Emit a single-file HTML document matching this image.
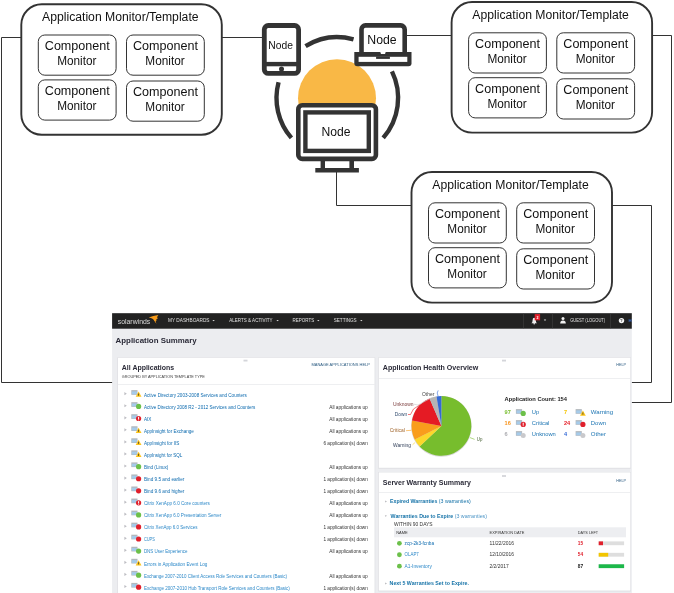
<!DOCTYPE html>
<html lang="en"><head><meta charset="utf-8"><title>Application Monitor diagram</title>
<style>
html,body{margin:0;padding:0;background:#fff;}
body{width:674px;height:593px;overflow:hidden;font-family:"Liberation Sans", sans-serif;}
svg{display:block;}
</style></head><body>
<svg width="674" height="593" viewBox="0 0 674 593" font-family='"Liberation Sans", sans-serif'>
<rect width="674" height="593" fill="#fff"/>
<polyline points="21,37.5 1.5,37.5 1.5,382.5 113,382.5" fill="none" stroke="#333" stroke-width="1"/>
<polyline points="222,37.5 264,37.5" fill="none" stroke="#333" stroke-width="1"/>
<polyline points="402,35.5 451,35.5" fill="none" stroke="#333" stroke-width="1"/>
<polyline points="652,35.5 671.5,35.5 671.5,402.5 631.5,402.5" fill="none" stroke="#333" stroke-width="1"/>
<polyline points="336.5,172 336.5,205.5 412,205.5" fill="none" stroke="#333" stroke-width="1"/>
<polyline points="612,205.5 651.5,205.5 651.5,382.5 631.5,382.5" fill="none" stroke="#333" stroke-width="1"/>
<rect x="21.3" y="4.2" width="200.5" height="130.6" rx="20.5" ry="20.5" fill="#fff" stroke="#333" stroke-width="1.9"/>
<text x="120.3" y="21.0" font-size="12" fill="#111" text-anchor="middle" textLength="156.5" lengthAdjust="spacingAndGlyphs">Application Monitor/Template</text>
<rect x="38.3" y="35.0" width="77.8" height="40.2" rx="6.5" ry="6.5" fill="#fff" stroke="#333" stroke-width="1"/>
<text x="77.3" y="50.1" font-size="12" fill="#111" text-anchor="middle" textLength="65" lengthAdjust="spacingAndGlyphs">Component</text>
<text x="76.8" y="65.1" font-size="12" fill="#111" text-anchor="middle" textLength="39.3" lengthAdjust="spacingAndGlyphs">Monitor</text>
<rect x="126.5" y="35.0" width="77.8" height="40.2" rx="6.5" ry="6.5" fill="#fff" stroke="#333" stroke-width="1"/>
<text x="165.5" y="50.1" font-size="12" fill="#111" text-anchor="middle" textLength="65" lengthAdjust="spacingAndGlyphs">Component</text>
<text x="165.0" y="65.1" font-size="12" fill="#111" text-anchor="middle" textLength="39.3" lengthAdjust="spacingAndGlyphs">Monitor</text>
<rect x="38.3" y="79.9" width="77.8" height="40.2" rx="6.5" ry="6.5" fill="#fff" stroke="#333" stroke-width="1"/>
<text x="77.3" y="95.0" font-size="12" fill="#111" text-anchor="middle" textLength="65" lengthAdjust="spacingAndGlyphs">Component</text>
<text x="76.8" y="110.0" font-size="12" fill="#111" text-anchor="middle" textLength="39.3" lengthAdjust="spacingAndGlyphs">Monitor</text>
<rect x="126.5" y="81.0" width="77.8" height="40.2" rx="6.5" ry="6.5" fill="#fff" stroke="#333" stroke-width="1"/>
<text x="165.5" y="96.1" font-size="12" fill="#111" text-anchor="middle" textLength="65" lengthAdjust="spacingAndGlyphs">Component</text>
<text x="165.0" y="111.1" font-size="12" fill="#111" text-anchor="middle" textLength="39.3" lengthAdjust="spacingAndGlyphs">Monitor</text>
<rect x="451.6" y="2" width="200.5" height="130.6" rx="20.5" ry="20.5" fill="#fff" stroke="#333" stroke-width="1.9"/>
<text x="550.6" y="18.8" font-size="12" fill="#111" text-anchor="middle" textLength="156.5" lengthAdjust="spacingAndGlyphs">Application Monitor/Template</text>
<rect x="468.6" y="32.8" width="77.8" height="40.2" rx="6.5" ry="6.5" fill="#fff" stroke="#333" stroke-width="1"/>
<text x="507.6" y="47.9" font-size="12" fill="#111" text-anchor="middle" textLength="65" lengthAdjust="spacingAndGlyphs">Component</text>
<text x="507.1" y="62.9" font-size="12" fill="#111" text-anchor="middle" textLength="39.3" lengthAdjust="spacingAndGlyphs">Monitor</text>
<rect x="556.8000000000001" y="32.8" width="77.8" height="40.2" rx="6.5" ry="6.5" fill="#fff" stroke="#333" stroke-width="1"/>
<text x="595.8000000000001" y="47.9" font-size="12" fill="#111" text-anchor="middle" textLength="65" lengthAdjust="spacingAndGlyphs">Component</text>
<text x="595.3000000000001" y="62.9" font-size="12" fill="#111" text-anchor="middle" textLength="39.3" lengthAdjust="spacingAndGlyphs">Monitor</text>
<rect x="468.6" y="77.7" width="77.8" height="40.2" rx="6.5" ry="6.5" fill="#fff" stroke="#333" stroke-width="1"/>
<text x="507.6" y="92.8" font-size="12" fill="#111" text-anchor="middle" textLength="65" lengthAdjust="spacingAndGlyphs">Component</text>
<text x="507.1" y="107.80000000000001" font-size="12" fill="#111" text-anchor="middle" textLength="39.3" lengthAdjust="spacingAndGlyphs">Monitor</text>
<rect x="556.8000000000001" y="78.8" width="77.8" height="40.2" rx="6.5" ry="6.5" fill="#fff" stroke="#333" stroke-width="1"/>
<text x="595.8000000000001" y="93.89999999999999" font-size="12" fill="#111" text-anchor="middle" textLength="65" lengthAdjust="spacingAndGlyphs">Component</text>
<text x="595.3000000000001" y="108.9" font-size="12" fill="#111" text-anchor="middle" textLength="39.3" lengthAdjust="spacingAndGlyphs">Monitor</text>
<rect x="411.5" y="172" width="200.5" height="130.6" rx="20.5" ry="20.5" fill="#fff" stroke="#333" stroke-width="1.9"/>
<text x="510.5" y="188.8" font-size="12" fill="#111" text-anchor="middle" textLength="156.5" lengthAdjust="spacingAndGlyphs">Application Monitor/Template</text>
<rect x="428.5" y="202.8" width="77.8" height="40.2" rx="6.5" ry="6.5" fill="#fff" stroke="#333" stroke-width="1"/>
<text x="467.5" y="217.9" font-size="12" fill="#111" text-anchor="middle" textLength="65" lengthAdjust="spacingAndGlyphs">Component</text>
<text x="467.0" y="232.9" font-size="12" fill="#111" text-anchor="middle" textLength="39.3" lengthAdjust="spacingAndGlyphs">Monitor</text>
<rect x="516.7" y="202.8" width="77.8" height="40.2" rx="6.5" ry="6.5" fill="#fff" stroke="#333" stroke-width="1"/>
<text x="555.7" y="217.9" font-size="12" fill="#111" text-anchor="middle" textLength="65" lengthAdjust="spacingAndGlyphs">Component</text>
<text x="555.2" y="232.9" font-size="12" fill="#111" text-anchor="middle" textLength="39.3" lengthAdjust="spacingAndGlyphs">Monitor</text>
<rect x="428.5" y="247.7" width="77.8" height="40.2" rx="6.5" ry="6.5" fill="#fff" stroke="#333" stroke-width="1"/>
<text x="467.5" y="262.8" font-size="12" fill="#111" text-anchor="middle" textLength="65" lengthAdjust="spacingAndGlyphs">Component</text>
<text x="467.0" y="277.8" font-size="12" fill="#111" text-anchor="middle" textLength="39.3" lengthAdjust="spacingAndGlyphs">Monitor</text>
<rect x="516.7" y="248.8" width="77.8" height="40.2" rx="6.5" ry="6.5" fill="#fff" stroke="#333" stroke-width="1"/>
<text x="555.7" y="263.90000000000003" font-size="12" fill="#111" text-anchor="middle" textLength="65" lengthAdjust="spacingAndGlyphs">Component</text>
<text x="555.2" y="278.90000000000003" font-size="12" fill="#111" text-anchor="middle" textLength="39.3" lengthAdjust="spacingAndGlyphs">Monitor</text>
<circle cx="337" cy="98.2" r="39" fill="#F9B846"/>
<path d="M353.55,39.41 A60.8,60.8 0 0 0 305.53,46.16" fill="none" stroke="#333333" stroke-width="4.4" stroke-linecap="butt"/>
<path d="M278.57,82.26 A60.8,60.8 0 0 0 291.41,137.89" fill="none" stroke="#333333" stroke-width="4.4" stroke-linecap="butt"/>
<path d="M391.95,71.35 A60.8,60.8 0 0 1 383.19,137.89" fill="none" stroke="#333333" stroke-width="4.4" stroke-linecap="butt"/>
<rect x="264.3" y="25.5" width="34.3" height="47.9" rx="4" ry="4" fill="#fff" stroke="#333333" stroke-width="4.8"/>
<rect x="264.3" y="61.9" width="34.3" height="4.4" fill="#333333"/>
<circle cx="281.5" cy="69" r="2.5" fill="#333333"/>
<text x="280.6" y="49.2" font-size="10.3" fill="#111" text-anchor="middle" textLength="24.6" lengthAdjust="spacingAndGlyphs">Node</text>
<path d="M361.5,54 V29.4 a4,4 0 0 1 4,-4 h35.2 a4,4 0 0 1 4,4 V54" fill="#fff" stroke="#333333" stroke-width="4.6"/>
<path d="M354.3,52 H411.5 V63.3 a3,3 0 0 1 -3,3 H357.3 a3,3 0 0 1 -3,-3 Z" fill="#333333"/>
<rect x="358.6" y="56.8" width="48.7" height="5.1" fill="#fff"/>
<rect x="376.1" y="56.5" width="13.8" height="2.4" fill="#333333"/>
<path d="M380.2,51.8 h5.6 l-0.8,2.2 h-4 z" fill="#fff"/>
<text x="382" y="43.8" font-size="12.2" fill="#111" text-anchor="middle" textLength="29.3" lengthAdjust="spacingAndGlyphs">Node</text>
<rect x="320.6" y="160" width="4.4" height="9" fill="#333333"/>
<rect x="349.4" y="160" width="4.6" height="9" fill="#333333"/>
<rect x="315.3" y="168" width="43.6" height="4.5" fill="#333333"/>
<rect x="298.3" y="105.3" width="77.6" height="53.6" rx="4" ry="4" fill="#fff" stroke="#333333" stroke-width="4.6"/>
<rect x="305.4" y="112.4" width="63.4" height="38.5" fill="#fff" stroke="#333333" stroke-width="4.4"/>
<text x="336" y="136.3" font-size="12.2" fill="#111" text-anchor="middle" textLength="29" lengthAdjust="spacingAndGlyphs">Node</text>
<rect x="112.1" y="313.2" width="519.6999999999999" height="279.8" fill="#ECEDF0"/>
<rect x="112.1" y="313.2" width="519.6999999999999" height="15.5" fill="#222"/>
<text x="117.8" y="323.9" font-size="7.3" fill="#dcdcdc" textLength="32.4" lengthAdjust="spacingAndGlyphs">solarwinds</text>
<path d="M148.7,317.6 Q153,315.6 158.4,314.9 L156.8,317.6 L158.2,317.9 L156,319.6 L157,320 L155.6,321 L156.4,323.8 L154.4,321 Q153.4,318.4 148.7,317.6 Z" fill="#F99D1C"/>
<text x="168" y="322.3" font-size="4.8" fill="#f4f4f4" textLength="41.5" lengthAdjust="spacingAndGlyphs" opacity="0.9">MY DASHBOARDS</text>
<path d="M212.4,320 h2.4 l-1.2,1.3 z" fill="#ddd"/>
<text x="229.3" y="322.3" font-size="4.8" fill="#f4f4f4" textLength="43.2" lengthAdjust="spacingAndGlyphs" opacity="0.9">ALERTS &amp; ACTIVITY</text>
<path d="M276.40000000000003,320 h2.4 l-1.2,1.3 z" fill="#ddd"/>
<text x="292.5" y="322.3" font-size="4.8" fill="#f4f4f4" textLength="21.7" lengthAdjust="spacingAndGlyphs" opacity="0.9">REPORTS</text>
<path d="M317.1,320 h2.4 l-1.2,1.3 z" fill="#ddd"/>
<text x="333.7" y="322.3" font-size="4.8" fill="#f4f4f4" textLength="23" lengthAdjust="spacingAndGlyphs" opacity="0.9">SETTINGS</text>
<path d="M360.1,320 h2.4 l-1.2,1.3 z" fill="#ddd"/>
<rect x="523.5" y="313.2" width="0.5" height="15.3" fill="#444"/>
<rect x="552.5" y="313.2" width="0.5" height="15.3" fill="#444"/>
<rect x="610" y="313.2" width="0.5" height="15.3" fill="#444"/>
<path d="M531.4,323.2 q1.2,-0.6 1.2,-3 q0,-2.4 1.6,-2.4 q1.6,0 1.6,2.4 q0,2.4 1.2,3 z" fill="#eee"/>
<circle cx="534.2" cy="323.8" r="0.8" fill="#eee"/>
<rect x="534.7" y="314.1" width="5.4" height="6.2" fill="#E0202C"/>
<text x="537.4" y="318.6" font-size="3.6" fill="#fff" text-anchor="middle" font-weight="bold">2</text>
<path d="M543.8,319.6 h2.4 l-1.2,1.3 z" fill="#ddd"/>
<circle cx="563" cy="318.6" r="1.5" fill="#f2f2f2"/>
<path d="M560.2,323.4 q0,-3 2.8,-3 q2.8,0 2.8,3 z" fill="#f2f2f2"/>
<text x="570.2" y="322.2" font-size="4.5" fill="#f4f4f4" textLength="35" lengthAdjust="spacingAndGlyphs" opacity="0.9">GUEST (LOGOUT)</text>
<circle cx="621.5" cy="320.6" r="2.7" fill="#f5f5f5"/>
<text x="621.5" y="322" font-size="3.8" fill="#222" text-anchor="middle" font-weight="bold">?</text>
<text x="628.6" y="322.2" font-size="4.3" fill="#3C6FD0" font-weight="bold">H</text>
<text x="115.6" y="343.2" font-size="7.6" fill="#2B2B38" font-weight="bold" textLength="81" lengthAdjust="spacingAndGlyphs">Application Summary</text>
<rect x="117.4" y="357.40000000000003" width="257.8" height="241.2" fill="#DCDDE1"/>
<rect x="118" y="357.8" width="256.6" height="240" fill="#fff"/>
<rect x="118" y="384.3" width="256.6" height="0.6" fill="#E3E4E8"/>
<rect x="378.2" y="357.40000000000003" width="252.79999999999998" height="111.2" fill="#DCDDE1"/>
<rect x="378.8" y="357.8" width="251.6" height="110" fill="#fff"/>
<rect x="378.8" y="378.1" width="251.6" height="0.6" fill="#E3E4E8"/>
<rect x="378.2" y="472.0" width="252.79999999999998" height="119.4" fill="#DCDDE1"/>
<rect x="378.8" y="472.4" width="251.6" height="118.2" fill="#fff"/>
<rect x="378.8" y="492" width="251.6" height="0.6" fill="#E3E4E8"/>
<rect x="243.5" y="359.70000000000005" width="4" height="1.8" fill="#D4D5DA"/>
<rect x="502" y="359.70000000000005" width="4" height="1.8" fill="#D4D5DA"/>
<rect x="502" y="475.1" width="4" height="1.8" fill="#D4D5DA"/>
<text x="121.8" y="369.8" font-size="6.7" fill="#2B2B38" font-weight="bold" textLength="52.4" lengthAdjust="spacingAndGlyphs">All Applications</text>
<text x="121.8" y="378.4" font-size="3.7" fill="#3a3a3a" textLength="83" lengthAdjust="spacingAndGlyphs">GROUPED BY APPLICATION TEMPLATE TYPE</text>
<text x="370" y="366.2" font-size="3.7" fill="#2A5A80" text-anchor="end" textLength="58.6" lengthAdjust="spacingAndGlyphs">MANAGE APPLICATIONS  HELP</text>
<path d="M124.4,392.1 l2.4,1.6 l-2.4,1.6 z" fill="#BDBDC2"/>
<rect x="131.29999999999998" y="390.1" width="6.2" height="4.7" fill="#B3B8BD"/>
<rect x="131.9" y="391.40000000000003" width="5" height="2.9" fill="#A5CBEA"/>
<path d="M138.6,391.6 L141.5,396.8 L135.7,396.8 Z" fill="#FCC419"/>
<rect x="138.25" y="393.50000000000006" width="0.7" height="2.2" fill="#333"/>
<text x="143.9" y="396.8" font-size="4.9" fill="#0A69AE" textLength="103" lengthAdjust="spacingAndGlyphs">Active Directory 2003-2008 Services and Counters</text>
<path d="M124.4,404.15000000000003 l2.4,1.6 l-2.4,1.6 z" fill="#BDBDC2"/>
<rect x="131.29999999999998" y="402.15000000000003" width="6.2" height="4.7" fill="#B3B8BD"/>
<rect x="131.9" y="403.45000000000005" width="5" height="2.9" fill="#A5CBEA"/>
<circle cx="138.6" cy="406.45000000000005" r="2.6" fill="#6CC04A"/>
<text x="143.9" y="408.85" font-size="4.9" fill="#0A69AE" textLength="111.5" lengthAdjust="spacingAndGlyphs">Active Directory 2008 R2 - 2012 Services and Counters</text>
<text x="367.8" y="408.85" font-size="4.9" fill="#333" text-anchor="end" textLength="38.6" lengthAdjust="spacingAndGlyphs">All applications up</text>
<path d="M124.4,416.20000000000005 l2.4,1.6 l-2.4,1.6 z" fill="#BDBDC2"/>
<rect x="131.29999999999998" y="414.20000000000005" width="6.2" height="4.7" fill="#B3B8BD"/>
<rect x="131.9" y="415.50000000000006" width="5" height="2.9" fill="#A5CBEA"/>
<circle cx="138.6" cy="418.50000000000006" r="2.6" fill="#E0202C"/>
<rect x="138.1" y="416.80000000000007" width="1" height="2.2" fill="#fff"/>
<rect x="138.1" y="419.40000000000003" width="1" height="0.9" fill="#fff"/>
<text x="143.9" y="420.90000000000003" font-size="4.9" fill="#0A69AE" textLength="7.5" lengthAdjust="spacingAndGlyphs">AIX</text>
<text x="367.8" y="420.90000000000003" font-size="4.9" fill="#333" text-anchor="end" textLength="38.6" lengthAdjust="spacingAndGlyphs">All applications up</text>
<path d="M124.4,428.25000000000006 l2.4,1.6 l-2.4,1.6 z" fill="#BDBDC2"/>
<rect x="131.29999999999998" y="426.25000000000006" width="6.2" height="4.7" fill="#B3B8BD"/>
<rect x="131.9" y="427.55000000000007" width="5" height="2.9" fill="#A5CBEA"/>
<path d="M138.6,427.75000000000006 L141.5,432.95000000000005 L135.7,432.95000000000005 Z" fill="#FCC419"/>
<rect x="138.25" y="429.6500000000001" width="0.7" height="2.2" fill="#333"/>
<text x="143.9" y="432.95000000000005" font-size="4.9" fill="#0A69AE" textLength="50" lengthAdjust="spacingAndGlyphs">AppInsight for Exchange</text>
<text x="367.8" y="432.95000000000005" font-size="4.9" fill="#333" text-anchor="end" textLength="38.6" lengthAdjust="spacingAndGlyphs">All applications up</text>
<path d="M124.4,440.3 l2.4,1.6 l-2.4,1.6 z" fill="#BDBDC2"/>
<rect x="131.29999999999998" y="438.3" width="6.2" height="4.7" fill="#B3B8BD"/>
<rect x="131.9" y="439.6" width="5" height="2.9" fill="#A5CBEA"/>
<path d="M138.6,439.8 L141.5,445.0 L135.7,445.0 Z" fill="#FCC419"/>
<rect x="138.25" y="441.70000000000005" width="0.7" height="2.2" fill="#333"/>
<text x="143.9" y="445.0" font-size="4.9" fill="#0A69AE" textLength="35.5" lengthAdjust="spacingAndGlyphs">AppInsight for IIS</text>
<text x="367.8" y="445.0" font-size="4.9" fill="#333" text-anchor="end" textLength="44.4" lengthAdjust="spacingAndGlyphs">6 application(s) down</text>
<path d="M124.4,452.35 l2.4,1.6 l-2.4,1.6 z" fill="#BDBDC2"/>
<rect x="131.29999999999998" y="450.35" width="6.2" height="4.7" fill="#B3B8BD"/>
<rect x="131.9" y="451.65000000000003" width="5" height="2.9" fill="#A5CBEA"/>
<path d="M138.6,451.85 L141.5,457.05 L135.7,457.05 Z" fill="#FCC419"/>
<rect x="138.25" y="453.75000000000006" width="0.7" height="2.2" fill="#333"/>
<text x="143.9" y="457.05" font-size="4.9" fill="#0A69AE" textLength="38.5" lengthAdjust="spacingAndGlyphs">AppInsight for SQL</text>
<path d="M124.4,464.40000000000003 l2.4,1.6 l-2.4,1.6 z" fill="#BDBDC2"/>
<rect x="131.29999999999998" y="462.40000000000003" width="6.2" height="4.7" fill="#B3B8BD"/>
<rect x="131.9" y="463.70000000000005" width="5" height="2.9" fill="#A5CBEA"/>
<circle cx="138.6" cy="466.70000000000005" r="2.6" fill="#6CC04A"/>
<text x="143.9" y="469.1" font-size="4.9" fill="#0A69AE" textLength="24.5" lengthAdjust="spacingAndGlyphs">Bind (Linux)</text>
<text x="367.8" y="469.1" font-size="4.9" fill="#333" text-anchor="end" textLength="38.6" lengthAdjust="spacingAndGlyphs">All applications up</text>
<path d="M124.4,476.45000000000005 l2.4,1.6 l-2.4,1.6 z" fill="#BDBDC2"/>
<rect x="131.29999999999998" y="474.45000000000005" width="6.2" height="4.7" fill="#B3B8BD"/>
<rect x="131.9" y="475.75000000000006" width="5" height="2.9" fill="#A5CBEA"/>
<circle cx="138.6" cy="478.75000000000006" r="2.6" fill="#E0202C"/>
<text x="143.9" y="481.15000000000003" font-size="4.9" fill="#0A69AE" textLength="40.5" lengthAdjust="spacingAndGlyphs">Bind 9.5 and earlier</text>
<text x="367.8" y="481.15000000000003" font-size="4.9" fill="#333" text-anchor="end" textLength="44.4" lengthAdjust="spacingAndGlyphs">1 application(s) down</text>
<path d="M124.4,488.50000000000006 l2.4,1.6 l-2.4,1.6 z" fill="#BDBDC2"/>
<rect x="131.29999999999998" y="486.50000000000006" width="6.2" height="4.7" fill="#B3B8BD"/>
<rect x="131.9" y="487.80000000000007" width="5" height="2.9" fill="#A5CBEA"/>
<circle cx="138.6" cy="490.80000000000007" r="2.6" fill="#E0202C"/>
<text x="143.9" y="493.20000000000005" font-size="4.9" fill="#0A69AE" textLength="40.5" lengthAdjust="spacingAndGlyphs">Bind 9.6 and higher</text>
<text x="367.8" y="493.20000000000005" font-size="4.9" fill="#333" text-anchor="end" textLength="44.4" lengthAdjust="spacingAndGlyphs">1 application(s) down</text>
<path d="M124.4,500.55 l2.4,1.6 l-2.4,1.6 z" fill="#BDBDC2"/>
<rect x="131.29999999999998" y="498.55" width="6.2" height="4.7" fill="#B3B8BD"/>
<rect x="131.9" y="499.85" width="5" height="2.9" fill="#A5CBEA"/>
<circle cx="138.6" cy="502.85" r="2.6" fill="#E0202C"/>
<rect x="138.1" y="501.15000000000003" width="1" height="2.2" fill="#fff"/>
<rect x="138.1" y="503.75" width="1" height="0.9" fill="#fff"/>
<text x="143.9" y="505.25" font-size="4.9" fill="#2C88C8" textLength="66" lengthAdjust="spacingAndGlyphs">Citrix XenApp 6.0 Core counters</text>
<text x="367.8" y="505.25" font-size="4.9" fill="#333" text-anchor="end" textLength="38.6" lengthAdjust="spacingAndGlyphs">All applications up</text>
<path d="M124.4,512.5999999999999 l2.4,1.6 l-2.4,1.6 z" fill="#BDBDC2"/>
<rect x="131.29999999999998" y="510.59999999999997" width="6.2" height="4.7" fill="#B3B8BD"/>
<rect x="131.9" y="511.9" width="5" height="2.9" fill="#A5CBEA"/>
<circle cx="138.6" cy="514.9" r="2.6" fill="#6CC04A"/>
<text x="143.9" y="517.3" font-size="4.9" fill="#2C88C8" textLength="77.5" lengthAdjust="spacingAndGlyphs">Citrix XenApp 6.0 Presentation Server</text>
<text x="367.8" y="517.3" font-size="4.9" fill="#333" text-anchor="end" textLength="38.6" lengthAdjust="spacingAndGlyphs">All applications up</text>
<path d="M124.4,524.65 l2.4,1.6 l-2.4,1.6 z" fill="#BDBDC2"/>
<rect x="131.29999999999998" y="522.65" width="6.2" height="4.7" fill="#B3B8BD"/>
<rect x="131.9" y="523.95" width="5" height="2.9" fill="#A5CBEA"/>
<circle cx="138.6" cy="526.95" r="2.6" fill="#E0202C"/>
<text x="143.9" y="529.35" font-size="4.9" fill="#2C88C8" textLength="53.5" lengthAdjust="spacingAndGlyphs">Citrix XenApp 6.0 Services</text>
<text x="367.8" y="529.35" font-size="4.9" fill="#333" text-anchor="end" textLength="44.4" lengthAdjust="spacingAndGlyphs">1 application(s) down</text>
<path d="M124.4,536.7 l2.4,1.6 l-2.4,1.6 z" fill="#BDBDC2"/>
<rect x="131.29999999999998" y="534.7" width="6.2" height="4.7" fill="#B3B8BD"/>
<rect x="131.9" y="536.0000000000001" width="5" height="2.9" fill="#A5CBEA"/>
<circle cx="138.6" cy="539.0000000000001" r="2.6" fill="#E0202C"/>
<text x="143.9" y="541.4000000000001" font-size="4.9" fill="#2C88C8" textLength="11" lengthAdjust="spacingAndGlyphs">CUPS</text>
<text x="367.8" y="541.4000000000001" font-size="4.9" fill="#333" text-anchor="end" textLength="44.4" lengthAdjust="spacingAndGlyphs">1 application(s) down</text>
<path d="M124.4,548.75 l2.4,1.6 l-2.4,1.6 z" fill="#BDBDC2"/>
<rect x="131.29999999999998" y="546.75" width="6.2" height="4.7" fill="#B3B8BD"/>
<rect x="131.9" y="548.0500000000001" width="5" height="2.9" fill="#A5CBEA"/>
<circle cx="138.6" cy="551.0500000000001" r="2.6" fill="#6CC04A"/>
<text x="143.9" y="553.45" font-size="4.9" fill="#2C88C8" textLength="43.5" lengthAdjust="spacingAndGlyphs">DNS User Experience</text>
<text x="367.8" y="553.45" font-size="4.9" fill="#333" text-anchor="end" textLength="38.6" lengthAdjust="spacingAndGlyphs">All applications up</text>
<path d="M124.4,560.8 l2.4,1.6 l-2.4,1.6 z" fill="#BDBDC2"/>
<rect x="131.29999999999998" y="558.8" width="6.2" height="4.7" fill="#B3B8BD"/>
<rect x="131.9" y="560.1" width="5" height="2.9" fill="#A5CBEA"/>
<path d="M138.6,560.3000000000001 L141.5,565.5 L135.7,565.5 Z" fill="#FCC419"/>
<rect x="138.25" y="562.2" width="0.7" height="2.2" fill="#333"/>
<text x="143.9" y="565.5" font-size="4.9" fill="#2C88C8" textLength="63.5" lengthAdjust="spacingAndGlyphs">Errors in Application Event Log</text>
<path d="M124.4,572.8499999999999 l2.4,1.6 l-2.4,1.6 z" fill="#BDBDC2"/>
<rect x="131.29999999999998" y="570.8499999999999" width="6.2" height="4.7" fill="#B3B8BD"/>
<rect x="131.9" y="572.15" width="5" height="2.9" fill="#A5CBEA"/>
<circle cx="138.6" cy="575.15" r="2.6" fill="#6CC04A"/>
<text x="143.9" y="577.55" font-size="4.9" fill="#2C88C8" textLength="143" lengthAdjust="spacingAndGlyphs">Exchange 2007-2010 Client Access Role Services and Counters (Basic)</text>
<text x="367.8" y="577.55" font-size="4.9" fill="#333" text-anchor="end" textLength="38.6" lengthAdjust="spacingAndGlyphs">All applications up</text>
<path d="M124.4,584.9 l2.4,1.6 l-2.4,1.6 z" fill="#BDBDC2"/>
<rect x="131.29999999999998" y="582.9" width="6.2" height="4.7" fill="#B3B8BD"/>
<rect x="131.9" y="584.2" width="5" height="2.9" fill="#A5CBEA"/>
<circle cx="138.6" cy="587.2" r="2.6" fill="#E0202C"/>
<text x="143.9" y="589.6" font-size="4.9" fill="#2C88C8" textLength="146" lengthAdjust="spacingAndGlyphs">Exchange 2007-2010 Hub Transport Role Services and Counters (Basic)</text>
<text x="367.8" y="589.6" font-size="4.9" fill="#333" text-anchor="end" textLength="44.4" lengthAdjust="spacingAndGlyphs">1 application(s) down</text>
<text x="382.8" y="370.2" font-size="6.7" fill="#2B2B38" font-weight="bold" textLength="95.5" lengthAdjust="spacingAndGlyphs">Application Health Overview</text>
<text x="626" y="366.2" font-size="3.7" fill="#2A5A80" text-anchor="end" textLength="9.8" lengthAdjust="spacingAndGlyphs">HELP</text>
<circle cx="441.4" cy="426.29999999999995" r="30.4" fill="#D8D8D8"/>
<path d="M441.4,425.9 L441.40,396.00 A29.9,29.9 0 1 1 419.62,446.39 Z" fill="#77BD2D"/>
<path d="M441.4,425.9 L419.62,446.39 A29.9,29.9 0 0 1 414.73,439.42 Z" fill="#FCD72B"/>
<path d="M441.4,425.9 L414.73,439.42 A29.9,29.9 0 0 1 412.00,420.44 Z" fill="#F99D1C"/>
<path d="M441.4,425.9 L412.00,420.44 A29.9,29.9 0 0 1 429.54,398.45 Z" fill="#E51B24"/>
<path d="M441.4,425.9 L429.54,398.45 A29.9,29.9 0 0 1 436.54,396.40 Z" fill="#B5B5B5"/>
<path d="M441.4,425.9 L436.54,396.40 A29.9,29.9 0 0 1 441.40,396.00 Z" fill="#3369D6"/>
<polyline points="438.2,396.4 437.2,393 438.2,390.4" fill="none" stroke="#3369D6" stroke-width="0.6"/>
<polyline points="431.5,397.8 418,405 414,404.2" fill="none" stroke="#C9C9CC" stroke-width="0.6"/>
<polyline points="420,404.8 413.5,409 410.5,414.5 408,414.5" fill="none" stroke="#E51B24" stroke-width="0.6"/>
<polyline points="411.3,430.3 406,430.7" fill="none" stroke="#F99D1C" stroke-width="0.6"/>
<polyline points="415,442.6 412.5,444.8" fill="none" stroke="#FCD72B" stroke-width="0.6"/>
<polyline points="470,437.6 474.6,439.4" fill="none" stroke="#77BD2D" stroke-width="0.6"/>
<text x="422" y="395.7" font-size="4.7" fill="#444" textLength="12.3" lengthAdjust="spacingAndGlyphs">Other</text>
<text x="393" y="405.7" font-size="4.7" fill="#7a3a3a" textLength="20.6" lengthAdjust="spacingAndGlyphs">Unknown</text>
<text x="394.8" y="415.9" font-size="4.7" fill="#2f4a6d" textLength="12.3" lengthAdjust="spacingAndGlyphs">Down</text>
<text x="389.8" y="432.3" font-size="4.7" fill="#a0642a" textLength="15" lengthAdjust="spacingAndGlyphs">Critical</text>
<text x="393" y="447" font-size="4.7" fill="#33405a" textLength="18" lengthAdjust="spacingAndGlyphs">Warning</text>
<text x="476.8" y="440.7" font-size="4.7" fill="#3e5a2a" textLength="5.6" lengthAdjust="spacingAndGlyphs">Up</text>
<text x="504.6" y="401.3" font-size="5.7" fill="#222" font-weight="bold" textLength="62.4" lengthAdjust="spacingAndGlyphs">Application Count: 154</text>
<text x="504.6" y="414.4" font-size="5.6" fill="#77BD2D" font-weight="bold">97</text>
<rect x="515.9000000000001" y="409.09999999999997" width="6.2" height="4.7" fill="#B3B8BD"/>
<rect x="516.5" y="410.4" width="5" height="2.9" fill="#A5CBEA"/>
<circle cx="523.2" cy="413.4" r="2.6" fill="#6CC04A"/>
<text x="531.8" y="414.4" font-size="5.7" fill="#1D75B3" textLength="7.4" lengthAdjust="spacingAndGlyphs">Up</text>
<text x="564.0" y="414.4" font-size="5.6" fill="#F5C400" font-weight="bold">7</text>
<rect x="575.6000000000001" y="409.09999999999997" width="6.2" height="4.7" fill="#B3B8BD"/>
<rect x="576.2" y="410.4" width="5" height="2.9" fill="#A5CBEA"/>
<path d="M582.9000000000001,410.59999999999997 L585.8000000000001,415.79999999999995 L580.0000000000001,415.79999999999995 Z" fill="#FCC419"/>
<rect x="582.5500000000001" y="412.5" width="0.7" height="2.2" fill="#333"/>
<text x="590.8" y="414.4" font-size="5.7" fill="#1D75B3" textLength="22.3" lengthAdjust="spacingAndGlyphs">Warning</text>
<text x="504.6" y="425.4" font-size="5.6" fill="#F7941D" font-weight="bold">16</text>
<rect x="515.9000000000001" y="420.09999999999997" width="6.2" height="4.7" fill="#B3B8BD"/>
<rect x="516.5" y="421.4" width="5" height="2.9" fill="#A5CBEA"/>
<circle cx="523.2" cy="424.4" r="2.6" fill="#E0202C"/>
<rect x="522.7" y="422.7" width="1" height="2.2" fill="#fff"/>
<rect x="522.7" y="425.29999999999995" width="1" height="0.9" fill="#fff"/>
<text x="531.8" y="425.4" font-size="5.7" fill="#1D75B3" textLength="17.6" lengthAdjust="spacingAndGlyphs">Critical</text>
<text x="564.0" y="425.4" font-size="5.6" fill="#E51B24" font-weight="bold">24</text>
<rect x="575.6000000000001" y="420.09999999999997" width="6.2" height="4.7" fill="#B3B8BD"/>
<rect x="576.2" y="421.4" width="5" height="2.9" fill="#A5CBEA"/>
<circle cx="582.9000000000001" cy="424.4" r="2.6" fill="#E0202C"/>
<text x="590.8" y="425.4" font-size="5.7" fill="#1D75B3" textLength="15.2" lengthAdjust="spacingAndGlyphs">Down</text>
<text x="504.6" y="436.4" font-size="5.6" fill="#ABABB0" font-weight="bold">6</text>
<rect x="515.9000000000001" y="431.09999999999997" width="6.2" height="4.7" fill="#B3B8BD"/>
<rect x="516.5" y="432.4" width="5" height="2.9" fill="#A5CBEA"/>
<circle cx="523.2" cy="435.4" r="2.5" fill="#C9C9CC"/>
<text x="531.8" y="436.4" font-size="5.7" fill="#1D75B3" textLength="24" lengthAdjust="spacingAndGlyphs">Unknown</text>
<text x="564.0" y="436.4" font-size="5.6" fill="#3369D6" font-weight="bold">4</text>
<rect x="575.6000000000001" y="431.09999999999997" width="6.2" height="4.7" fill="#B3B8BD"/>
<rect x="576.2" y="432.4" width="5" height="2.9" fill="#A5CBEA"/>
<circle cx="582.9000000000001" cy="435.4" r="2.5" fill="#C9C9CC"/>
<text x="590.8" y="436.4" font-size="5.7" fill="#1D75B3" textLength="15.2" lengthAdjust="spacingAndGlyphs">Other</text>
<text x="382.8" y="485.1" font-size="6.7" fill="#2B2B38" font-weight="bold" textLength="88" lengthAdjust="spacingAndGlyphs">Server Warranty Summary</text>
<text x="626" y="481.8" font-size="3.7" fill="#2A5A80" text-anchor="end" textLength="9.8" lengthAdjust="spacingAndGlyphs">HELP</text>
<path d="M385.4,500.4 l1.3,1 l-1.3,1 z" fill="#9A9AA0"/>
<text x="390" y="503.3" font-size="4.9" fill="#1673A8" textLength="80.8" lengthAdjust="spacingAndGlyphs"><tspan font-weight="bold">Expired Warranties</tspan> (3 warranties)</text>
<path d="M384.8,515.4 h2 l-1,1.3 z" fill="#9A9AA0"/>
<text x="390.6" y="517.9" font-size="4.9" fill="#1673A8" textLength="96.4" lengthAdjust="spacingAndGlyphs"><tspan font-weight="bold">Warranties Due to Expire</tspan> <tspan fill="#4C95C6">(3 warranties)</tspan></text>
<text x="394" y="525.7" font-size="4.5" fill="#333" textLength="38.6" lengthAdjust="spacingAndGlyphs">WITHIN 90 DAYS</text>
<rect x="394" y="527.3" width="232" height="10" fill="#EDEEF1"/>
<text x="396.2" y="533.8" font-size="3.6" fill="#333" textLength="11.6" lengthAdjust="spacingAndGlyphs">NAME</text>
<text x="489.5" y="533.8" font-size="3.6" fill="#333" textLength="35" lengthAdjust="spacingAndGlyphs">EXPIRATION DATE</text>
<text x="577.8" y="533.8" font-size="3.6" fill="#333" textLength="20.4" lengthAdjust="spacingAndGlyphs">DAYS LEFT</text>
<circle cx="399.4" cy="543.3" r="2.4" fill="#6CC04A"/>
<text x="404.6" y="545.0" font-size="4.8" fill="#0A69AE" textLength="29.4" lengthAdjust="spacingAndGlyphs">zcp-2k3-fcnba</text>
<text x="489.5" y="545.0" font-size="4.8" fill="#333" textLength="24.5" lengthAdjust="spacingAndGlyphs">11/22/2016</text>
<text x="577.8" y="545.0" font-size="4.8" fill="#E0202C" font-weight="bold">15</text>
<rect x="598.7" y="541.4" width="25.4" height="3.8" fill="#DEDEDE"/>
<rect x="598.7" y="541.4" width="4.3" height="3.8" fill="#E0202C"/>
<circle cx="399.4" cy="554.75" r="2.4" fill="#6CC04A"/>
<text x="404.6" y="556.45" font-size="4.8" fill="#2C88C8" textLength="14.2" lengthAdjust="spacingAndGlyphs">OLAP7</text>
<text x="489.5" y="556.45" font-size="4.8" fill="#333" textLength="24.5" lengthAdjust="spacingAndGlyphs">12/10/2016</text>
<text x="577.8" y="556.45" font-size="4.8" fill="#E0202C" font-weight="bold">54</text>
<rect x="598.7" y="552.85" width="25.4" height="3.8" fill="#DEDEDE"/>
<rect x="598.7" y="552.85" width="9.5" height="3.8" fill="#F2C500"/>
<circle cx="399.4" cy="566.1999999999999" r="2.4" fill="#6CC04A"/>
<text x="404.6" y="567.9" font-size="4.8" fill="#2C88C8" textLength="27.2" lengthAdjust="spacingAndGlyphs">A1-Inventory</text>
<text x="489.5" y="567.9" font-size="4.8" fill="#333" textLength="19.2" lengthAdjust="spacingAndGlyphs">2/2/2017</text>
<text x="577.8" y="567.9" font-size="4.8" fill="#222" font-weight="bold">87</text>
<rect x="598.7" y="564.3" width="25.4" height="3.8" fill="#DEDEDE"/>
<rect x="598.7" y="564.3" width="25.4" height="3.8" fill="#1CB84A"/>
<path d="M385.4,582.4 l1.3,1 l-1.3,1 z" fill="#9A9AA0"/>
<text x="389.6" y="585.2" font-size="4.9" fill="#1673A8" font-weight="bold" textLength="79.4" lengthAdjust="spacingAndGlyphs">Next 5 Warranties Set to Expire.</text>
</svg>
</body></html>
